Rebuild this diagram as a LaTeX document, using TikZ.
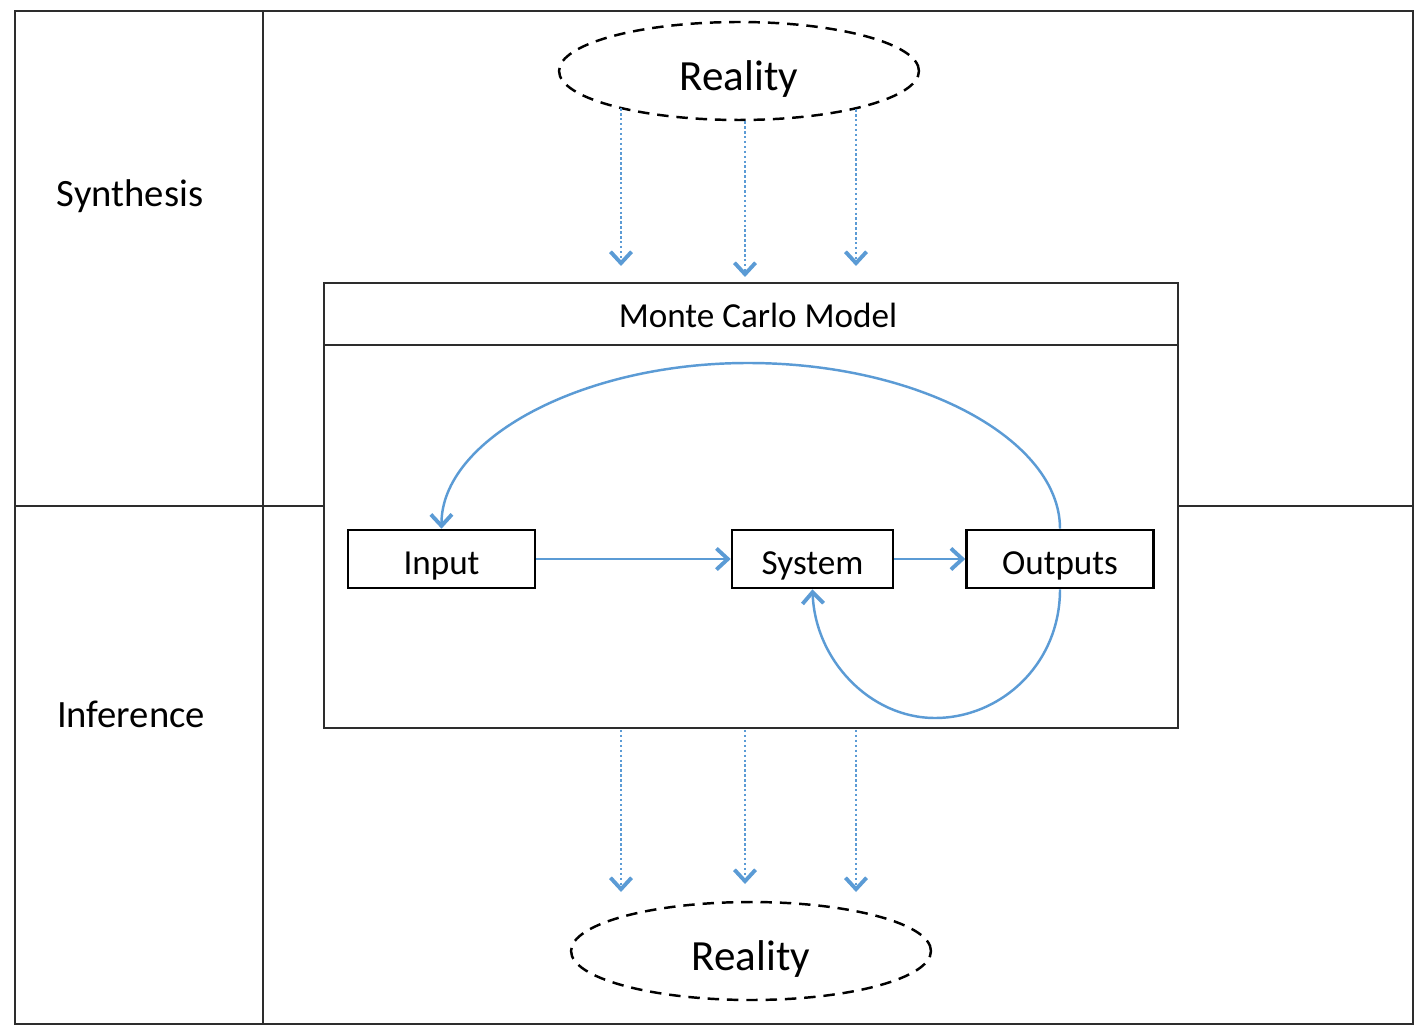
\documentclass[tikz,border=0pt]{standalone}
\usepackage{fontspec}
\setmainfont{Carlito}
\usetikzlibrary{arrows.meta,shapes.geometric}
\definecolor{lineblue}{RGB}{91,155,213}
\definecolor{frameg}{RGB}{45,45,45}
\tikzset{
  frame/.style={draw=frameg, line width=1.1pt},
  flowbox/.style={draw=black, line width=1.5pt, fill=white, rectangle, minimum width=3.74cm, minimum height=1.16cm, inner sep=0pt, text height=17.5pt, text depth=0pt, font=\fontsize{20pt}{24pt}\selectfont},
  realbox/.style={draw=black, ellipse, line width=1.4pt, dash pattern=on 6.5pt off 4.5pt, minimum width=7.2cm, minimum height=1.96cm, inner sep=0pt, text height=22pt, text depth=0pt, font=\fontsize{24.5pt}{29pt}\selectfont},
  flow/.style={draw=lineblue, line width=1.4pt, -{Straight Barb[length=6.5pt,width=12pt,line width=2.2pt]}},
  dotflow/.style={draw=lineblue, line width=1.4pt, dash pattern=on 1.4pt off 1.4pt, -{Straight Barb[length=6.5pt,width=12pt,line width=2.2pt,sep=0pt]}},
  sidelabel/.style={font=\fontsize{22pt}{26pt}\selectfont},
}
\begin{document}
\begin{tikzpicture}[x=0.02cm,y=-0.02cm]
\useasboundingbox (0,0) rectangle (1422,1033);
% outer frame and dividers
\draw[frame] (15,11) rectangle (1413,1024);
\draw[frame] (263,11) -- (263,1024);
\draw[frame] (15,506) -- (1413,506);
\node[sidelabel] (synth) at (130,196) {Synthesis};
\node[sidelabel] (infer) at (131,714) {Inference};
% Monte Carlo model box
\node[draw=frameg, line width=0.9pt, fill=white, rectangle, minimum width=17.08cm, minimum height=8.9cm, inner sep=0pt] (mc) at (751,505.5) {};
\draw[draw=frameg, line width=0.9pt] (324,345) -- (1178,345);
\node[font=\fontsize{20pt}{24pt}\selectfont] (mctitle) at (758,315) {Monte Carlo Model};
% reality ellipses
\node[realbox] (rtop) at (739,71) {Reality};
\node[realbox] (rbot) at (751,951) {Reality};
% dotted arrows top
\coordinate (t1) at (621,266);
\coordinate (t2) at (745,277);
\coordinate (t3) at (856,266);
\draw[dotflow] (t1 |- rtop.197.4) -- (t1);
\draw[dotflow] (rtop.south -| t2) -- (t2);
\draw[dotflow] (t3 |- rtop.342.5) -- (t3);
% dotted arrows bottom
\coordinate (b1s) at (621,730);
\coordinate (b2s) at (745,730);
\coordinate (b3s) at (856,730);
\coordinate (b1) at (621,892);
\coordinate (b2) at (745,884);
\coordinate (b3) at (856,892);
\draw[dotflow] (b1s) -- (b1);
\draw[dotflow] (b2s) -- (b2);
\draw[dotflow] (b3s) -- (b3);
% flow boxes
\node[flowbox] (input) at (441.5,559) {Input};
\node[flowbox, minimum width=3.22cm] (system) at (812.5,559) {System};
\node[flowbox] (outputs) at (1060,559) {Outputs};
\draw[flow] (input.east) -- (system.west);
\draw[flow] (system.east) -- (outputs.west);
\draw[flow] (outputs.north) .. controls (1060,440) and (920,363) .. (748,363) .. controls (580,363) and (441,440) .. (input.north);
\draw[flow] (outputs.south) .. controls (1060,665) and (1000,718) .. (935,718) .. controls (870,718) and (815,660) .. (system.south);
\end{tikzpicture}
\end{document}
